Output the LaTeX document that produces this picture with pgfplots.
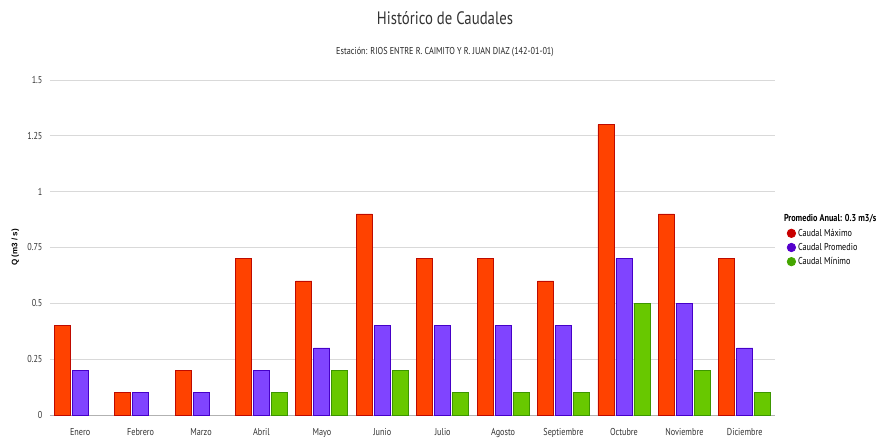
\documentclass[border=0pt]{standalone}
\usepackage{fontspec}
\setmainfont{PT Sans}[FakeStretch=0.82]
\newfontfamily\ylabfont{Liberation Sans}
\usepackage{pgfplots}
\pgfplotsset{compat=1.18}
\definecolor{rfill}{RGB}{255,66,0}
\definecolor{rdraw}{RGB}{190,10,0}
\definecolor{pfill}{RGB}{128,68,255}
\definecolor{pdraw}{RGB}{70,0,200}
\definecolor{gfill}{RGB}{104,200,0}
\definecolor{gdraw}{RGB}{60,150,0}
\definecolor{rleg}{RGB}{200,0,0}
\definecolor{pleg}{RGB}{85,0,204}
\definecolor{gleg}{RGB}{68,165,0}
\begin{document}
\begin{tikzpicture}[x=1pt,y=1pt]
\path[use as bounding box] (-50,-26) rectangle (828,415);
\begin{axis}[
  at={(0,0)}, anchor=south west,
  scale only axis, width=725pt, height=335pt,
  ybar=2pt, bar width=16pt,
  xmin=-0.5, xmax=11.5, ymin=0, ymax=1.5,
  xtick={0,...,11},
  xticklabels={Enero,Febrero,Marzo,Abril,Mayo,Junio,Julio,Agosto,Septiembre,Octubre,Noviembre,Diciembre},
  ytick={0,0.25,0.5,0.75,1,1.25,1.5},
  yticklabels={0,0.25,0.5,0.75,1,1.25,1.5},
  ymajorgrids, grid style={gray!30, line width=0.8pt},
  axis line style={draw=none},
  extra y ticks={0}, extra y tick labels={},
  extra y tick style={grid style={gray!60, line width=0.8pt}},
  major tick length=0pt,
  tick label style={font=\fontsize{10}{12}\selectfont, text=black!80},
  xticklabel style={yshift=-10pt},
  yticklabel style={xshift=-4pt},
  ylabel={\ylabfont\bfseries Q (m3 / s)},
  ylabel style={font=\fontsize{8}{10}\selectfont, at={(axis description cs:-0.048,0.5)}, anchor=center},
  legend style={draw=none, fill=none, at={(rel axis cs:1.016,0.61)}, anchor=north west,
    font=\fontsize{10}{12}\selectfont, row sep=1.5pt, inner xsep=0pt, cells={anchor=west}},
  clip=false,
]
\addlegendimage{empty legend}
\addlegendentry{\hspace{-14pt}\textbf{Promedio Anual: 0.3 m3/s}}
\addplot[fill=rfill, draw=rdraw, line width=0.8pt,
  legend image code/.code={\fill[rleg] (0.35em,0) circle (0.42em);}]
  coordinates {(0,0.4) (1,0.1) (2,0.2) (3,0.7) (4,0.6) (5,0.9) (6,0.7) (7,0.7) (8,0.6) (9,1.3) (10,0.9) (11,0.7)};
\addlegendentry{Caudal Máximo}
\addplot[fill=pfill, draw=pdraw, line width=0.8pt,
  legend image code/.code={\fill[pleg] (0.35em,0) circle (0.42em);}]
  coordinates {(0,0.2) (1,0.1) (2,0.1) (3,0.2) (4,0.3) (5,0.4) (6,0.4) (7,0.4) (8,0.4) (9,0.7) (10,0.5) (11,0.3)};
\addlegendentry{Caudal Promedio}
\addplot[fill=gfill, draw=gdraw, line width=0.8pt,
  legend image code/.code={\fill[gleg] (0.35em,0) circle (0.42em);}]
  coordinates {(3,0.1) (4,0.2) (5,0.2) (6,0.1) (7,0.1) (8,0.1) (9,0.5) (10,0.2) (11,0.1)};
\addlegendentry{Caudal Mínimo}
\end{axis}
\node[font=\fontsize{18}{21}\selectfont, text=black!80] at (395,397) {Histórico de Caudales};
\node[font=\fontsize{10}{12}\selectfont, text=black!85] at (395,363) {Estación: RIOS ENTRE R. CAIMITO Y R. JUAN DIAZ (142-01-01)};
\end{tikzpicture}
\end{document}
